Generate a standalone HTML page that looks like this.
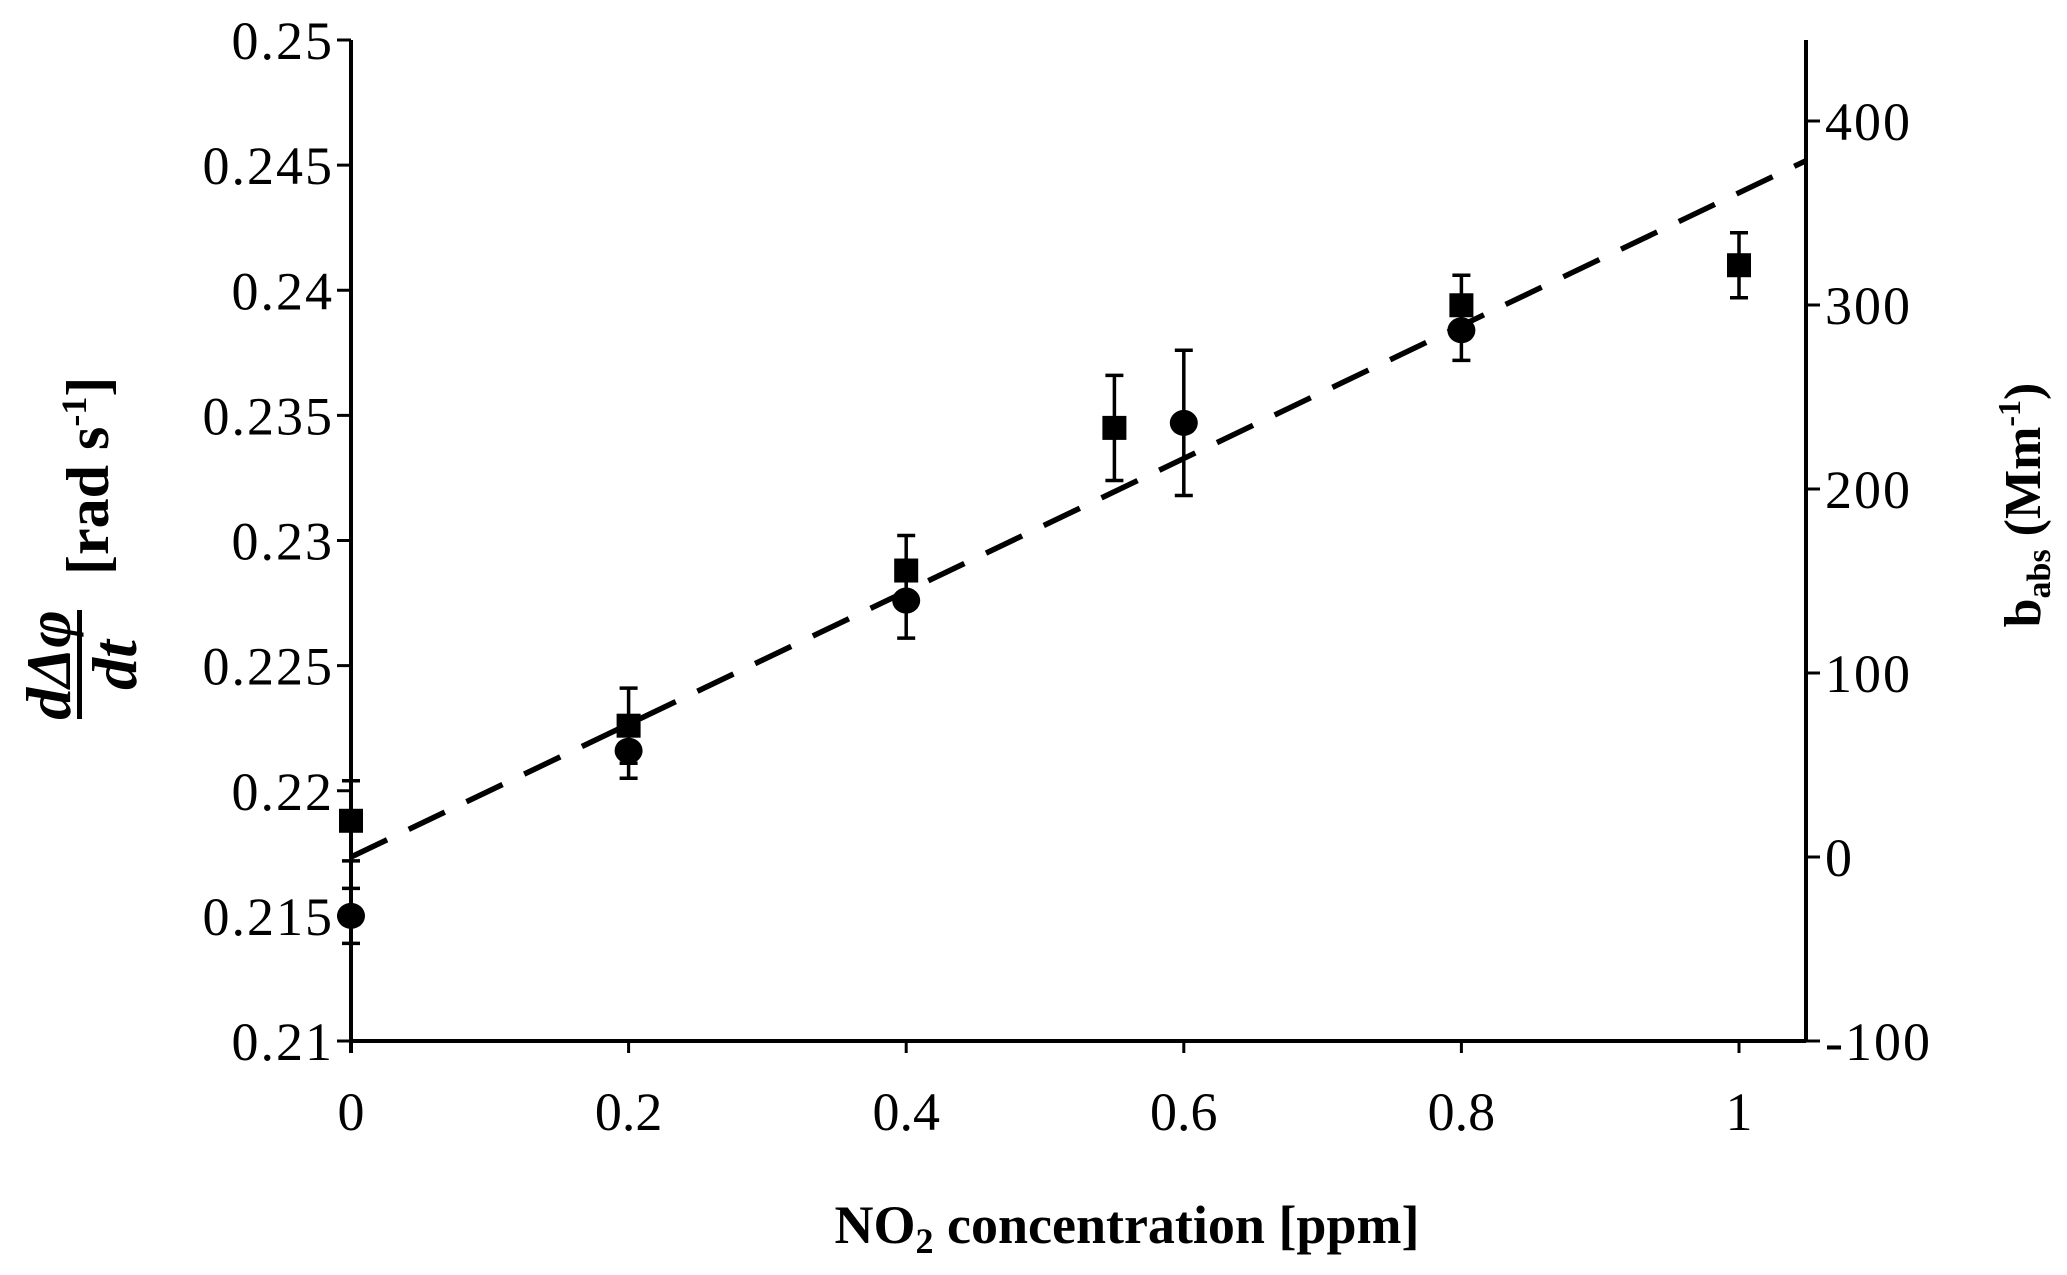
<!DOCTYPE html>
<html><head><meta charset="utf-8"><style>
html,body{margin:0;padding:0;background:#fff;}
svg{display:block;font-family:"Liberation Serif","DejaVu Serif",serif;}
</style></head><body>
<svg id="chart" width="2067" height="1275" viewBox="0 0 2067 1275" xmlns="http://www.w3.org/2000/svg">
<g id="axes"></g>
<g id="marks"></g>
<g transform="rotate(-90)" font-weight="bold">
  <text x="-665" y="70" text-anchor="middle" font-size="64" font-style="italic">dΔφ</text>
  <rect x="-719" y="77" width="109" height="5" fill="#000"/>
  <text x="-665" y="136" text-anchor="middle" font-size="64" font-style="italic">dt</text>
  <text x="-575" y="108" font-size="60">[rad s<tspan font-size="36" dy="-22">-1</tspan><tspan dy="22">]</tspan></text>
</g>
<g transform="rotate(-90)" font-weight="bold">
  <text x="-505" y="2040" text-anchor="middle" font-size="52">b<tspan font-size="34" dy="10">abs</tspan><tspan dy="-10"> (Mm</tspan><tspan font-size="32" dy="-20">-1</tspan><tspan dy="20">)</tspan></text>
</g>
<text x="1127" y="1243" text-anchor="middle" font-size="54" font-weight="bold">NO<tspan font-size="36" dy="10">2</tspan><tspan dy="-10"> concentration [ppm]</tspan></text>
</svg>
<script>
const xTicks = [0, 0.2, 0.4, 0.6, 0.8, 1];
const xTickLabels = ["0", "0.2", "0.4", "0.6", "0.8", "1"];
const leftTicks = [0.21, 0.215, 0.22, 0.225, 0.23, 0.235, 0.24, 0.245, 0.25];
const leftTickLabels = ["0.21", "0.215", "0.22", "0.225", "0.23", "0.235", "0.24", "0.245", "0.25"];
const rightTicks = [-100, 0, 100, 200, 300, 400];
const rightTickLabels = ["-100", "0", "100", "200", "300", "400"];
const squareX = [0, 0.2, 0.4, 0.55, 0.8, 1];
const squareY = [0.2188, 0.2226, 0.2288, 0.2345, 0.2394, 0.2410];
const squareErr = [0.0016, 0.0015, 0.0014, 0.0021, 0.0012, 0.0013];
const circleX = [0, 0.2, 0.4, 0.6, 0.8];
const circleY = [0.2150, 0.2216, 0.2276, 0.2347, 0.2384];
const circleErr = [0.0011, 0.0011, 0.0015, 0.0029, 0.0012];
const fitSlope = [361];
const fitIntercept = [0];

const NS = "http://www.w3.org/2000/svg";
const X0 = 351, X1 = 1739, YT = 40, YB = 1041, XR = 1806;
const sx = v => X0 + (X1 - X0) * v;
const sy = v => YB - (YB - YT) * (v - 0.21) / 0.04;
const sr = v => 857 - (857 - 121) * v / 400;
const axes = document.getElementById('axes');
const marks = document.getElementById('marks');
function mk(tag, attrs, parent) {
  const e = document.createElementNS(NS, tag);
  for (const k in attrs) e.setAttribute(k, attrs[k]);
  parent.appendChild(e);
  return e;
}
let e;
e = mk('line', {x1: X0, y1: YB, x2: XR, y2: YB, stroke: '#000', 'stroke-width': 4}, axes);


e = mk('line', {x1: X0, y1: YT, x2: X0, y2: YB + 12, stroke: '#000', 'stroke-width': 4}, axes);


e = mk('line', {x1: XR, y1: YT, x2: XR, y2: YB, stroke: '#000', 'stroke-width': 4}, axes);


xTicks.forEach((v, i) => {
  const x = sx(v);
  e = mk('line', {x1: x, y1: YB, x2: x, y2: YB + 12, stroke: '#000', 'stroke-width': 3}, axes);
  
  
  e = mk('text', {x: x, y: 1130, 'text-anchor': 'middle', 'font-size': 54}, axes);
  e.textContent = xTickLabels[i];
  
  
});
leftTicks.forEach((v, i) => {
  const y = sy(v);
  e = mk('line', {x1: X0 - 14, y1: y, x2: X0, y2: y, stroke: '#000', 'stroke-width': 3}, axes);
  
  
  e = mk('text', {x: 334, y: y + 19, 'text-anchor': 'end', 'font-size': 54, 'letter-spacing': 2}, axes);
  e.textContent = leftTickLabels[i];
  
  
});
rightTicks.forEach((v, i) => {
  const y = sr(v);
  e = mk('line', {x1: XR, y1: y, x2: XR + 14, y2: y, stroke: '#000', 'stroke-width': 3}, axes);
  
  
  e = mk('text', {x: 1825, y: y + 19, 'text-anchor': 'start', 'font-size': 54, 'letter-spacing': 2}, axes);
  e.textContent = rightTickLabels[i];
  
  
});
const xEnd = (XR - X0) / (X1 - X0);
e = mk('line', {x1: sx(0), y1: sr(fitIntercept[0]), x2: XR, y2: sr(fitIntercept[0] + fitSlope[0] * xEnd), stroke: '#000', 'stroke-width': 5.5, 'stroke-dasharray': '40 24'}, marks);


function errBar(x, y, err) {
  const g = mk('g', {stroke: '#000', 'stroke-width': 3.5}, marks);
  
  
  const yt = sy(y + err), yb = sy(y - err);
  mk('line', {x1: x, y1: yt, x2: x, y2: yb}, g);
  mk('line', {x1: x - 9, y1: yt, x2: x + 9, y2: yt}, g);
  mk('line', {x1: x - 9, y1: yb, x2: x + 9, y2: yb}, g);
}
squareX.forEach((v, i) => {
  const x = sx(v), y = sy(squareY[i]);
  errBar(x, squareY[i], squareErr[i]);
  e = mk('rect', {x: x - 12, y: y - 12, width: 24, height: 24, fill: '#000'}, marks);
  
  
});
circleX.forEach((v, i) => {
  const x = sx(v), y = sy(circleY[i]);
  errBar(x, circleY[i], circleErr[i]);
  e = mk('ellipse', {cx: x, cy: y, rx: 14, ry: 13, fill: '#000'}, marks);
  
  
});
</script>
</body></html>
